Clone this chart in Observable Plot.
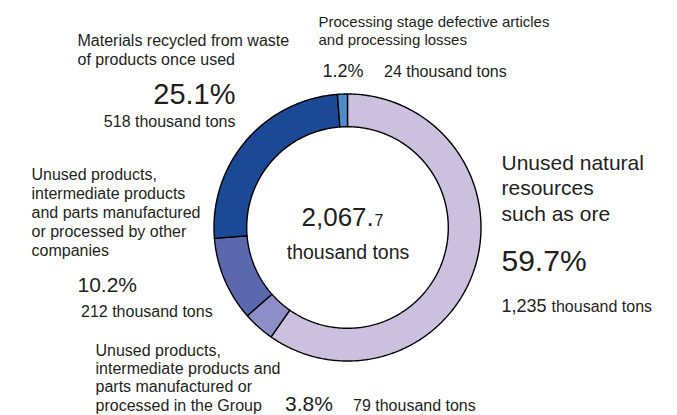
<!DOCTYPE html>
<html><head><meta charset="utf-8">
<script src="https://cdn.jsdelivr.net/npm/d3@7"></script>
<script src="https://cdn.jsdelivr.net/npm/@observablehq/plot@0.6"></script>
<style>
body{margin:0;background:#fff;}
#chart{width:677px;height:415px;}
</style>
</head><body><div id="chart"></div>
<script>
// ---- data ----
const categories = [
  "Unused natural resources such as ore",
  "Unused products, intermediate products and parts manufactured or processed in the Group",
  "Unused products, intermediate products and parts manufactured or processed by other companies",
  "Materials recycled from waste of products once used",
  "Processing stage defective articles and processing losses"
];
const shares = [59.7, 3.8, 10.2, 25.1, 1.2];           // %
const amounts = ["1,235", "79", "212", "518", "24"];   // thousand tons
const sliceColors = ["#cbc0de", "#8d8dc7", "#5b68ad", "#1b4995", "#4c8dc7"];
const totalMain = "2,067.";
const totalDecimal = "7";
const unit = "thousand tons";

// ---- donut geometry from data ----
const innerRatio = 0.755;
const arcs = d3.pie().sort(null).value(d => d)(shares);
const slicePoints = arcs.map((a, i) => {
  const n = Math.max(2, Math.ceil((a.endAngle - a.startAngle) / 0.01));
  const pts = [];
  for (let k = 0; k <= n; k++) {
    const t = a.startAngle + (a.endAngle - a.startAngle) * k / n;
    pts.push({cat: categories[i], x: Math.sin(t), y: -Math.cos(t)});
  }
  for (let k = n; k >= 0; k--) {
    const t = a.startAngle + (a.endAngle - a.startAngle) * k / n;
    pts.push({cat: categories[i], x: innerRatio * Math.sin(t), y: -innerRatio * Math.cos(t)});
  }
  pts.push(pts[0]);
  return pts;
});

const FONT = "Liberation Sans, Arial, Helvetica, sans-serif";
const INK = "#231f20";
function label(text, x, y, size, opts = {}) {
  return Plot.text([text], {
    text: d => d, frameAnchor: "top-left", dx: x, dy: y,
    fontSize: size, textAnchor: opts.anchor || "start", lineAnchor: "bottom",
    lineHeight: opts.lh || 1.2, fill: INK, fontFamily: FONT
  });
}

const chart = Plot.plot({
  width: 677, height: 415,
  margin: 0,
  x: {domain: [-1, 1], range: [213.5, 480.5], axis: null},
  y: {domain: [-1, 1], range: [93.5, 360.5], axis: null},
  style: {fontFamily: FONT, background: "#fff", overflow: "visible"},
  marks: [
    ...slicePoints.map((pts, i) => Plot.line(pts, {
      x: "x", y: "y", fill: sliceColors[i], stroke: "#000", strokeWidth: 1.4,
      strokeLinejoin: "miter", curve: "linear"
    })),
    // center
    label(totalMain, 301, 225, 26),
    label(totalDecimal, 374, 225, 16),
    label(unit, 347.5, 258, 19.5, {anchor: "middle"}),
    // Materials recycled
    label("Materials recycled from waste\nof products once used", 77, 64, 16, {lh: 19 / 16}),
    label(shares[3].toFixed(1) + "%", 235, 103, 29, {anchor: "end"}),
    label(amounts[3] + " " + unit, 235, 126, 16, {anchor: "end"}),
    // Processing losses
    label("Processing stage defective articles\nand processing losses", 318, 44.3, 15, {lh: 17.6 / 15}),
    label(shares[4].toFixed(1) + "%", 322, 76, 18),
    label(amounts[4] + " " + unit, 383.5, 76, 16),
    // other companies
    label("Unused products,\nintermediate products\nand parts manufactured\nor processed by other\ncompanies", 31, 255, 16, {lh: 19 / 16}),
    label(shares[2].toFixed(1) + "%", 77, 291.5, 21),
    label(amounts[2] + " " + unit, 80.5, 316.5, 16),
    // in the Group
    label("Unused products,\nintermediate products and\nparts manufactured or\nprocessed in the Group", 95, 410, 16, {lh: 18.3 / 16}),
    label(shares[1].toFixed(1) + "%", 284.5, 410, 21),
    label(amounts[1] + " " + unit, 352.5, 410, 16),
    // natural resources
    label("Unused natural\nresources\nsuch as ore", 501, 220, 21, {lh: 25.5 / 21}),
    label(shares[0].toFixed(1) + "%", 501, 270, 30),
    label(amounts[0], 501, 311, 18),
    label(unit, 551, 311, 16)
  ]
});
document.getElementById("chart").appendChild(chart);
</script>
</body></html>
